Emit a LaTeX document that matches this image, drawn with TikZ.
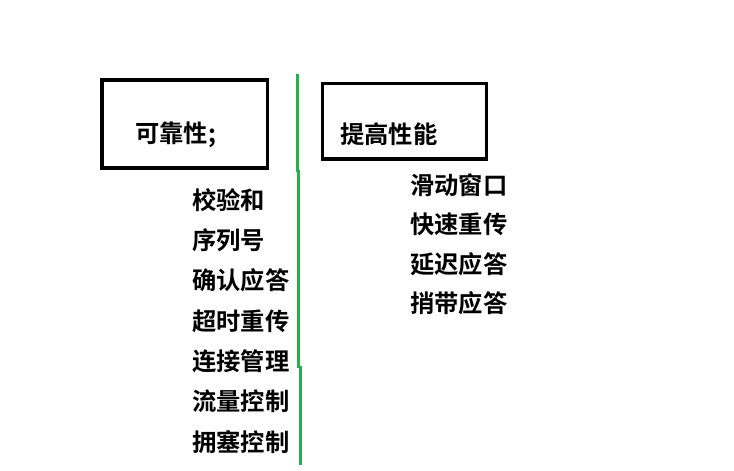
\documentclass[tikz,border=0pt]{standalone}
\usepackage{fontspec}
\newfontfamily\cjk{Noto Sans CJK SC Bold}
\definecolor{paintgreen}{RGB}{34,177,76}
\begin{document}
\begin{tikzpicture}[x=1pt,y=-1pt,
  boxframe/.style={draw=black,line width=3.5pt},
  item/.style={anchor=west,inner sep=0pt,font=\cjk\fontsize{24.3}{27}\selectfont},
  divider/.style={draw=paintgreen,line width=3pt}]
\useasboundingbox[fill=white] (0,0) rectangle (734,471);
% boxes
\draw[boxframe] (102,80) rectangle (267.5,168);
\draw[boxframe] (322.5,83.5) rectangle (486.5,159);
\node[item] (rel) at (135,135) {可靠性;};
\node[item] (perf) at (340,134) {提高性能};
% green divider
\coordinate (g1) at (297.3,74);
\coordinate (g2) at (297.3,172);
\coordinate (g3) at (298.6,170);
\coordinate (g4) at (298.6,368);
\coordinate (g5) at (300.2,366);
\coordinate (g6) at (300.2,465);
\draw[divider] (g1) -- (g2);
\draw[divider] (g3) -- (g4);
\draw[divider] (g5) -- (g6);
% left column
\node[item] (l1) at (192,200) {校验和};
\node[item] (l2) at (192,240) {序列号};
\node[item] (l3) at (192,280) {确认应答};
\node[item] (l4) at (192,321) {超时重传};
\node[item] (l5) at (192,361) {连接管理};
\node[item] (l6) at (192,401) {流量控制};
\node[item] (l7) at (192,442) {拥塞控制};
% right column
\node[item] (r1) at (410,185) {滑动窗口};
\node[item] (r2) at (410,224.5) {快速重传};
\node[item] (r3) at (410,264) {延迟应答};
\node[item] (r4) at (410,303) {捎带应答};
\end{tikzpicture}
\end{document}
